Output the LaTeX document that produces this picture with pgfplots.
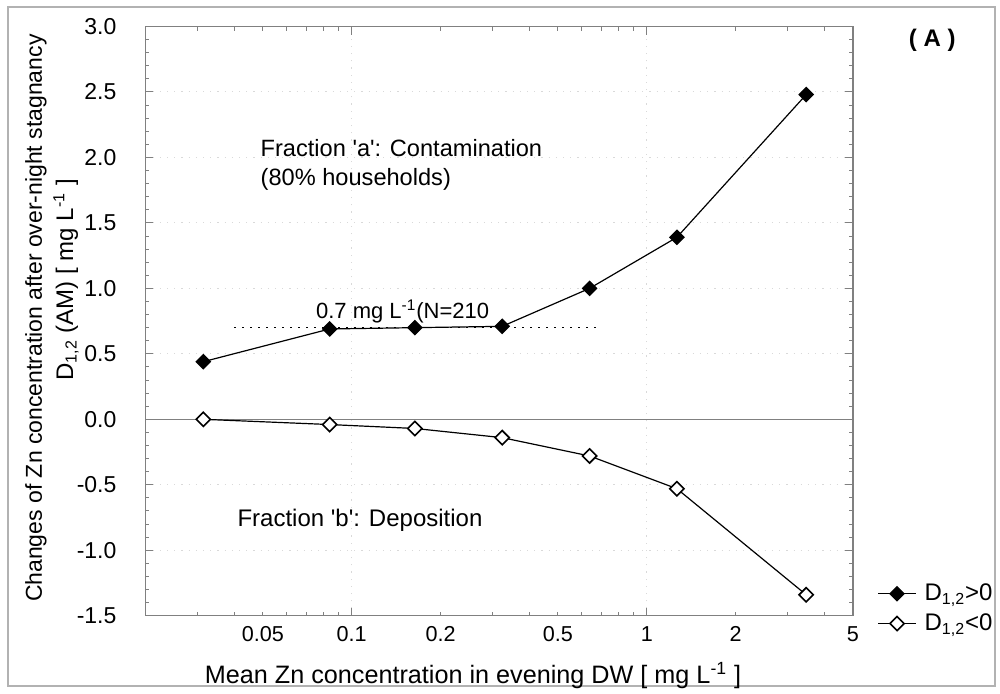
\documentclass[border=0pt]{standalone}
\usepackage{fontspec}
\setmainfont{Liberation Sans}
\usepackage{pgfplots}
\pgfplotsset{compat=1.18}
\begin{document}
\begin{tikzpicture}
\useasboundingbox (-72.75pt,-38.65pt) rectangle (427.25pt,307.85pt);
\draw[gray!60, line width=0.7pt] (-68.75pt,-35.15pt) rectangle (424.75pt,304.35pt);
\begin{axis}[
  clip mode=individual,
  xmode=log, scale only axis, width=353.75pt, height=294.6pt,
  xmin=0.02, xmax=5, ymin=-1.5, ymax=3,
  axis line style={gray, line width=0.6pt},
  every tick/.style={gray, line width=0.5pt},
  major tick length=4pt, minor tick length=2pt,
  xtick={0.1,1}, xticklabels={0.1,1},
  extra x ticks={0.05,0.2,0.5,2,5}, extra x tick labels={0.05,0.2,0.5,2,5},
  extra x tick style={major tick length=2pt, grid=none},
  minor xtick={0.02,0.03,0.04,0.06,0.07,0.08,0.09,0.3,0.4,0.6,0.7,0.8,0.9,3,4},
  ytick={-1.5,-1,-0.5,0,0.5,1,1.5,2,2.5,3},
  yticklabels={-1.5,-1.0,-0.5,0.0,0.5,1.0,1.5,2.0,2.5,3.0},
  minor y tick num=4,
  xmajorgrids, ymajorgrids,
  grid style={gray!30, dash pattern=on 0.6pt off 3pt, line width=0.5pt},
  xticklabel style={font=\fontsize{10.8}{12}\selectfont, yshift=-2pt},
  yticklabel style={font=\fontsize{11.5}{13}\selectfont, xshift=-11pt},
  xlabel={Mean Zn concentration in evening DW [ mg L\textsuperscript{-1} ]},
  xlabel style={font=\fontsize{12.6}{14}\selectfont, at={(axis description cs:0.463,-0.101)}, anchor=center},
  ylabel={Changes of Zn concentration after over-night stagnancy},
  ylabel style={font=\fontsize{11.5}{14}\selectfont, at={(axis description cs:-0.155,0.505)}, anchor=center},
  legend style={draw=none, fill=none, at={(axis description cs:1.034,0.012)}, anchor=west,
    font=\fontsize{12}{14}\selectfont, row sep=3pt, inner sep=0pt,
    nodes={inner sep=1pt},
    /tikz/every odd column/.append style={column sep=3pt}},
  legend cell align=left,
  legend image code/.code={\draw[mark repeat=2,mark phase=2] plot coordinates {(0pt,0pt)(9.5pt,0pt)(19pt,0pt)};},
]
\addplot[gray, line width=0.6pt, forget plot] coordinates {(0.02,0) (5,0)};
\addplot[black, line width=0.6pt, forget plot, dash pattern=on 0.8pt off 3.2pt] coordinates {(0.04,0.7) (0.7,0.7)};
\addplot[black, line width=0.6pt, mark=square*, mark size=2.5pt, mark options={rotate=45, fill=black, solid}]
  coordinates {(0.0314,0.44)(0.0842,0.69)(0.1637,0.70)(0.3236,0.71)(0.640,1.00)(1.265,1.39)(3.47,2.48)};
\addlegendentry{D\textsubscript{1,2}>0}
\addplot[black, line width=0.6pt, mark=square*, mark size=2.5pt, mark options={rotate=45, fill=white, solid, line width=0.8pt}]
  coordinates {(0.0314,0.00)(0.0842,-0.04)(0.1637,-0.07)(0.3236,-0.14)(0.640,-0.28)(1.265,-0.53)(3.47,-1.34)};
\addlegendentry{D\textsubscript{1,2}<0}
\node[rotate=90, anchor=center, inner sep=0pt, font=\fontsize{12}{14}\selectfont] at (axis description cs:-0.1124,0.57) {D\textsubscript{1,2} (AM) [ mg L\textsuperscript{-1} ]};
\node[anchor=west, align=left, inner sep=0pt, font=\fontsize{11.8}{14.5}\selectfont] at (axis cs:0.049,1.94) {Fraction \textquotesingle a\textquotesingle: Contamination\\(80\% households)};
\node[anchor=west, inner sep=0pt, font=\fontsize{12}{14}\selectfont] at (axis cs:0.0409,-0.769) {Fraction \textquotesingle b\textquotesingle: Deposition};
\node[anchor=west, font=\fontsize{11}{13}\selectfont, inner sep=0pt] at (axis cs:0.0755,0.827) {0.7 mg L\textsuperscript{-1}(N=210};
\node[font=\bfseries\fontsize{12}{14}\selectfont] at (axis description cs:1.112,0.977) {( A )};
\end{axis}
\end{tikzpicture}
\end{document}
